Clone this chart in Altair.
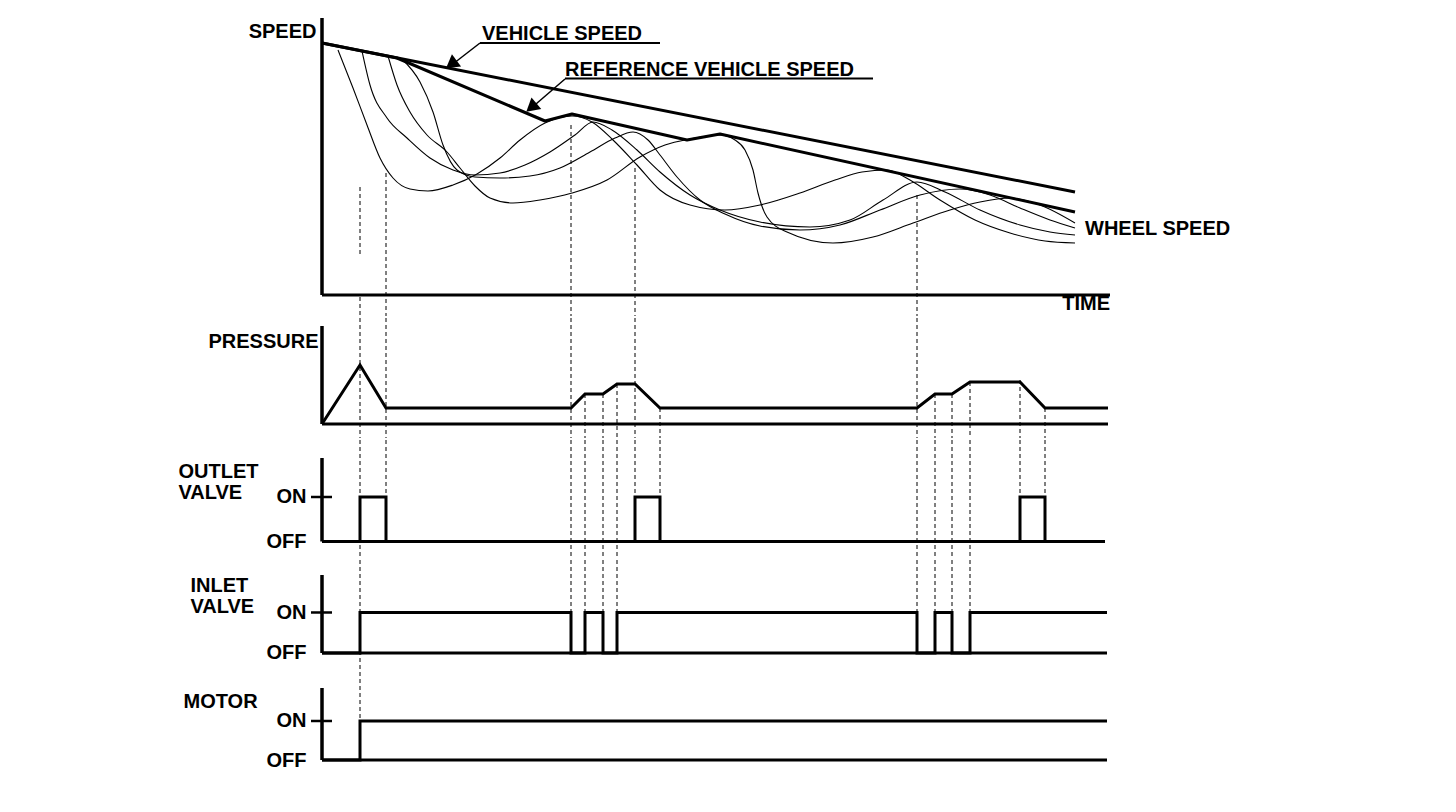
import altair as alt
import pandas as pd

FONT = "Liberation Sans"
T_END = 786  # time axis length (time units)

# ---------------- SPEED panel (speed units) ----------------
vehicle_t = [0, 753]
vehicle_v = [252, 103]
reference_t = [0, 75, 223, 250, 365, 398, 753]
reference_v = [252, 237, 174, 181, 155, 161, 83]

wheel1_t = [16, 31, 45, 58, 71, 88, 106, 131, 155, 178, 198, 223, 250, 270, 291, 315, 338, 368, 403, 438, 478, 513, 540, 565, 588, 618, 653, 688, 723, 753]
wheel1_v = [245, 207, 170, 137, 117, 106, 104, 110, 121, 137, 155, 172, 179, 173, 155, 130, 105, 90, 85, 90, 102, 115, 123, 125, 115, 95, 75, 62, 54, 52]
wheel2_t = [40, 48, 65, 85, 108, 131, 153, 178, 203, 228, 253, 271, 290, 315, 338, 368, 398, 438, 488, 528, 561, 595, 623, 658, 698, 728, 753]
wheel2_v = [244, 210, 177, 157, 137, 125, 120, 122, 130, 143, 160, 173, 165, 145, 123, 100, 85, 73, 68, 75, 95, 113, 103, 85, 70, 63, 60]
wheel3_t = [80, 98, 111, 121, 135, 153, 178, 208, 238, 268, 293, 311, 326, 338, 355, 378, 403, 438, 478, 518, 558, 598, 638, 668, 698, 728, 753]
wheel3_v = [236, 213, 183, 150, 125, 118, 117, 119, 127, 143, 157, 163, 155, 140, 118, 95, 81, 69, 65, 70, 85, 100, 106, 100, 87, 75, 67]
wheel4_t = [66, 75, 88, 105, 125, 138, 153, 168, 191, 218, 250, 285, 318, 343, 368, 398, 413, 423, 431, 436, 445, 465, 511, 551, 591, 628, 658, 688, 718, 753]
wheel4_v = [239, 210, 183, 160, 143, 127, 109, 97, 92, 95, 102, 115, 138, 150, 156, 160, 155, 145, 125, 102, 78, 63, 52, 58, 72, 85, 93, 97, 90, 72]

# ---------------- PRESSURE panel ----------------
pressure_t = [0, 38, 64, 249, 263, 281, 295, 313, 338, 595, 613, 630, 648, 698, 723, 786]
pressure_v = [0, 59, 16, 16, 30, 30, 40, 40, 16, 16, 30, 30, 42, 42, 16, 16]

# ---------------- VALVES / MOTOR (0 = OFF, 1 = ON) ----------------
outlet_t = [0, 38, 64, 313, 338, 698, 723, 783]
outlet_v = [0, 1, 0, 1, 0, 1, 0, 0]
inlet_t = [0, 38, 249, 263, 281, 295, 595, 613, 630, 648, 785]
inlet_v = [0, 1, 0, 1, 0, 1, 0, 1, 0, 1, 1]
motor_t = [0, 38, 785]
motor_v = [0, 1, 1]

# ---------------- dashed timing guides ----------------
dash_t = [38, 38, 64, 249, 263, 281, 295, 313, 338, 595, 613, 630, 648, 698, 723]
dash_from_panel = ["speed", "speed", "speed", "speed", "pressure", "pressure", "pressure", "speed",
                   "pressure", "speed", "pressure", "pressure", "pressure", "pressure", "pressure"]
dash_from_v = [108, -2, 122, 170, 30, 30, 40, 127, 16, 100, 30, 30, 42, 44, 16]
dash_to_panel = ["speed", "motor", "outlet", "inlet", "inlet", "inlet", "inlet", "outlet",
                 "outlet", "inlet", "inlet", "inlet", "inlet", "outlet", "outlet"]
dash_to_v = [38, 1, 1, 1, 1, 1, 1, 1, 1, 1, 1, 1, 1, 1, 1]

# ---------------- panel layout ----------------
panels = ["speed", "pressure", "outlet", "inlet", "motor"]
domains = {
    "speed": [-21, 287],
    "pressure": [-14, 106],
    "outlet": [-0.371, 2.281],
    "inlet": [-0.420, 2.296],
    "motor": [-0.769, 2.256],
}
heights = {"speed": 308, "pressure": 120, "outlet": 118, "inlet": 110, "motor": 118}
axis_top = {"speed": 277, "pressure": 98, "outlet": 1.876, "inlet": 1.926, "motor": 1.846}
base_end = {"speed": 788, "pressure": 786, "outlet": 783, "inlet": 785, "motor": 785}

X = alt.X("t:Q", scale=alt.Scale(domain=[0, T_END], nice=False, zero=False), axis=None)
BLACK = "#000000"


def make_axis(panel):
    common = dict(domain=False, ticks=False, tickSize=0, grid=False, titleAngle=0,
                  titleFont=FONT, titleFontSize=20, titleFontWeight="bold", titleColor=BLACK,
                  labelFont=FONT, labelFontSize=20, labelFontWeight="bold", labelColor=BLACK,
                  titleBaseline="top", titleLineHeight=21)
    if panel == "speed":
        return alt.Axis(labels=False, title="SPEED", titleAlign="right", titleX=-6, titleY=13, **common)
    if panel == "pressure":
        return alt.Axis(labels=False, title="PRESSURE", titleAlign="right", titleX=-4, titleY=13, **common)
    title = {"outlet": ["OUTLET", "VALVE"], "inlet": ["INLET", "VALVE"], "motor": "MOTOR"}[panel]
    tx = {"outlet": -144, "inlet": -132, "motor": -139}[panel]
    ty = {"outlet": 21, "inlet": 15, "motor": 19}[panel]
    return alt.Axis(values=[0, 1], labelExpr="datum.value == 1 ? 'ON' : 'OFF'",
                    labelPadding=16, title=title, titleAlign="left", titleX=tx, titleY=ty, **common)


def Y(panel):
    return alt.Y("v:Q", scale=alt.Scale(domain=domains[panel], nice=False, zero=False),
                 axis=make_axis(panel))


# dashed segments per panel
dash_rows = []
for t, fp, fv, tp, tv in zip(dash_t, dash_from_panel, dash_from_v, dash_to_panel, dash_to_v):
    i0, i1 = panels.index(fp), panels.index(tp)
    for k in range(i0, i1 + 1):
        p = panels[k]
        top = fv if k == i0 else domains[p][1]
        bot = tv if k == i1 else domains[p][0]
        dash_rows.append({"panel": p, "t": t, "v": top, "v2": bot})
dash_df = pd.DataFrame(dash_rows)


def frame(panel):
    """Axis line, baseline (and ON tick) of a panel."""
    y = Y(panel)
    vert = alt.Chart(pd.DataFrame({"t": [0], "v": [0], "v2": [axis_top[panel]]})).mark_rule(
        color=BLACK, strokeWidth=3.5).encode(x=X, y=y, y2="v2:Q")
    base = alt.Chart(pd.DataFrame({"t": [0], "t2": [base_end[panel]], "v": [0]})).mark_rule(
        color=BLACK, strokeWidth=3).encode(x=X, x2="t2:Q", y=y)
    layers = [vert, base]
    if panel in ("outlet", "inlet", "motor"):
        tick = alt.Chart(pd.DataFrame({"t": [-11], "t2": [10], "v": [1]})).mark_rule(
            color=BLACK, strokeWidth=2.5).encode(x=X, x2="t2:Q", y=y)
        layers.append(tick)
    dashes = alt.Chart(dash_df[dash_df["panel"] == panel]).mark_rule(
        color=BLACK, strokeWidth=1, strokeDash=[4, 3]).encode(x=X, y=y, y2="v2:Q")
    layers.insert(0, dashes)
    return layers


def text_layer(panel, rows, align):
    df = pd.DataFrame(rows, columns=["t", "v", "label"])
    return alt.Chart(df).mark_text(font=FONT, fontSize=20, fontWeight="bold", color=BLACK,
                                   align=align, baseline="alphabetic").encode(
        x=X, y=Y(panel), text="label:N")


# ---- speed panel ----
ys = Y("speed")
wheel_df = pd.concat([
    pd.DataFrame({"t": wheel1_t, "v": wheel1_v, "wheel": "1"}),
    pd.DataFrame({"t": wheel2_t, "v": wheel2_v, "wheel": "2"}),
    pd.DataFrame({"t": wheel3_t, "v": wheel3_v, "wheel": "3"}),
    pd.DataFrame({"t": wheel4_t, "v": wheel4_v, "wheel": "4"}),
])
wheels = alt.Chart(wheel_df).mark_line(color=BLACK, strokeWidth=1.1, interpolate="monotone").encode(
    x=X, y=ys, detail="wheel:N")
vehicle = alt.Chart(pd.DataFrame({"t": vehicle_t, "v": vehicle_v})).mark_line(
    color=BLACK, strokeWidth=3).encode(x=X, y=ys)
reference = alt.Chart(pd.DataFrame({"t": reference_t, "v": reference_v})).mark_line(
    color=BLACK, strokeWidth=3, strokeJoin="round").encode(x=X, y=ys)

underlines = alt.Chart(pd.DataFrame({"t": [158, 243], "t2": [338, 551], "v": [252, 216.5]})).mark_rule(
    color=BLACK, strokeWidth=2).encode(x=X, x2="t2:Q", y=ys)
arrows = alt.Chart(pd.DataFrame({"t": [158, 243], "t2": [127, 207], "v": [252, 216], "v2": [228, 185]})).mark_rule(
    color=BLACK, strokeWidth=1.5).encode(x=X, x2="t2:Q", y=ys, y2="v2:Q")
heads = alt.Chart(pd.DataFrame({"t": [131, 211], "v": [232, 189], "ang": [233, 230]})).mark_point(
    shape="triangle", filled=True, color=BLACK, size=230, opacity=1).encode(
    x=X, y=ys, angle=alt.Angle("ang:Q", scale=None))

speed_texts_left = text_layer("speed", [[160, 255, "VEHICLE SPEED"], [243, 219, "REFERENCE VEHICLE SPEED"],
                                        [763, 60, "WHEEL SPEED"]], "left")
speed_texts_right = text_layer("speed", [[788, -15, "TIME"]], "right")

speed_chart = alt.layer(*frame("speed"), wheels, vehicle, reference, underlines, arrows, heads,
                        speed_texts_left, speed_texts_right).properties(width=T_END, height=heights["speed"])

# ---- pressure panel ----
pressure = alt.Chart(pd.DataFrame({"t": pressure_t, "v": pressure_v})).mark_line(
    color=BLACK, strokeWidth=3).encode(x=X, y=Y("pressure"))
pressure_chart = alt.layer(*frame("pressure"), pressure).properties(width=T_END, height=heights["pressure"])


def valve_chart(panel, ts, vs):
    line = alt.Chart(pd.DataFrame({"t": ts, "v": vs})).mark_line(
        color=BLACK, strokeWidth=3, interpolate="step-after").encode(x=X, y=Y(panel))
    return alt.layer(*frame(panel), line).properties(width=T_END, height=heights[panel])


outlet_chart = valve_chart("outlet", outlet_t, outlet_v)
inlet_chart = valve_chart("inlet", inlet_t, inlet_v)
motor_chart = valve_chart("motor", motor_t, motor_v)

chart = alt.vconcat(speed_chart, pressure_chart, outlet_chart, inlet_chart, motor_chart, spacing=0).properties(
    padding={"left": 170, "top": 0, "right": 10, "bottom": 5}
).configure_view(strokeWidth=0, strokeOpacity=0)

chart.save("out.html", embed_options={"renderer": "svg", "actions": False})
